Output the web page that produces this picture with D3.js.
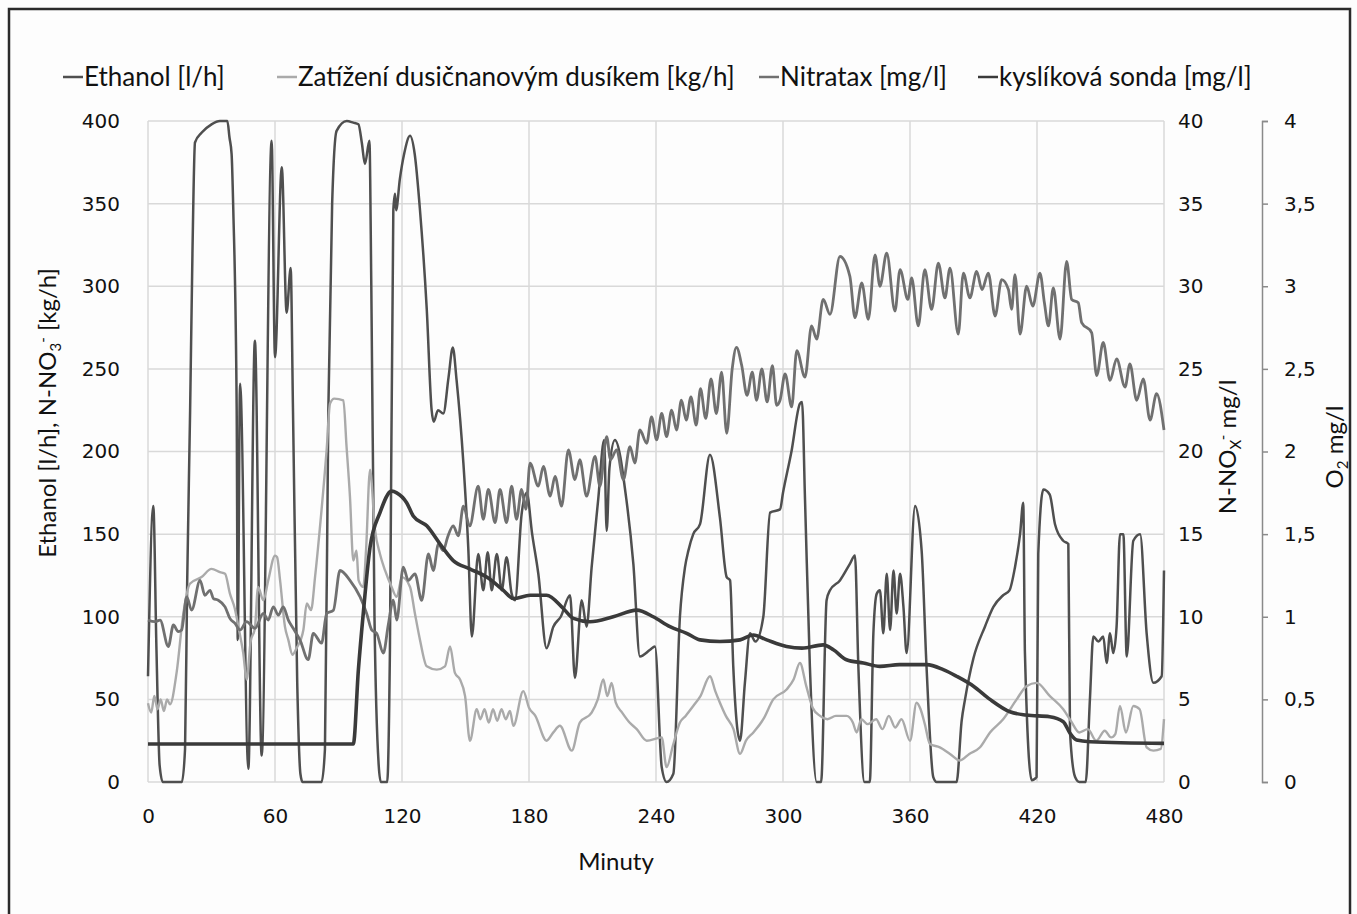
<!DOCTYPE html>
<html lang="cs">
<head>
<meta charset="UTF-8">
<title>Ethanol, dusičnany a kyslík</title>
<script src="https://d3js.org/d3.v7.min.js"></script>
<style>
  body, html { margin: 0; background: #fdfdfd; }
  svg { display: block; }
  .tick text { font-family: 'DejaVu Sans', sans-serif; font-size: 20px; fill: #111; }
  .label { font-family: 'Lato', 'Open Sans', sans-serif; font-size: 24px; fill: #111; }
  .legend { font-family: 'Lato', 'Open Sans', sans-serif; font-size: 26px; fill: #111; }
</style>
</head>
<body>
<svg width="1357" height="914"></svg>
<script>
// minutes / values
const ethanol = [[0,64],[2.5,167],[4,80],[5.5,10],[7,0],[16,0],[17.5,20],[18.5,120],[19.9,225],[21,320],[22.2,387],[25.4,393],[30,398],[34,400],[37.5,400],[38.5,390],[39.5,380],[40.3,346],[41.9,225],[42.4,86],[43.5,241],[47.4,8],[50.5,267],[53.7,16],[58.4,388],[60,257],[63.2,372],[65.5,284],[67.4,311],[68.5,225],[70.5,60],[72,5],[73,0],[82,0],[83.6,20],[85.2,225],[87,350],[89.1,394],[93.9,400],[97,399],[99.4,398],[101,387],[102.5,374],[104.6,388],[105.5,300],[107,100],[109,10],[110,0],[113,0],[114.3,80],[115.9,346],[116.7,356],[117.2,346],[119,365],[121,380],[123.8,391],[126,380],[128.5,346],[131.7,286],[134,225],[135,218],[137,225],[139.5,223],[142,245],[144,263],[145.8,243],[149,193],[151.3,142],[153,88],[156,138],[158.4,116],[160.5,139],[162.4,116],[164.8,138],[167.1,116],[169.4,136],[171.8,114],[173.4,110],[176.5,162],[178.9,175],[181.5,150],[184.4,126],[188.3,81],[191.5,94],[195,100],[199.4,113],[201.7,63],[204.9,110],[207.2,94],[209.6,130],[212.7,171],[215.5,207],[216.7,152],[218,190],[220.6,207],[226,171],[229.3,132],[232.4,76],[237.2,80],[239.5,82],[242.7,9],[245,0],[248.2,5],[251.3,100],[253.7,130],[255.3,140],[257.6,150],[260.8,156],[265.5,198],[270.2,160],[273.4,124],[275,122],[276.5,70],[279.7,25],[282,60],[284.4,90],[287,85],[290.7,100],[293.9,163],[298.6,165],[300,175],[304,200],[308,229],[309,230],[310.4,171],[312.7,70],[315.9,0],[318,0],[320.6,110],[322.2,116],[326.9,122],[331.6,132],[334,137],[335.6,70],[338.5,0],[341,0],[342.7,90],[344.3,114],[345.8,116],[347.4,90],[349,126],[350.6,92],[352.2,128],[353.7,102],[355.3,126],[356.9,106],[358.4,78],[362.4,167],[365.5,140],[367.8,70],[371,3],[372.6,0],[382,0],[384.4,37],[386,50],[390,75],[395.4,94],[399.4,106],[404,113],[407,116],[409.6,130],[412,150],[413.5,169],[414.3,78],[417.5,1],[419.8,3],[420.6,138],[423,177],[426,174],[428.5,156],[432.4,146],[434.8,144],[435.6,30],[438,3],[440,0],[443,0],[445,50],[446.6,88],[449,85],[451.3,88],[452.9,72],[454.5,90],[456,78],[457.6,94],[459.2,150],[460.8,150],[462.4,76],[465.5,146],[468.7,150],[471.8,90],[475,60],[478.9,64],[480,128]];

const nitrateLoad = [[0,47.6],[1.5,42],[3,52],[4.5,44],[6,50],[7.5,43],[9,50],[10.4,47],[13.5,66],[16.7,102],[19.8,120],[25.3,124],[30,129],[34,127],[36.4,126],[38.7,114],[41,105],[43,92],[45,78],[46.6,62],[48.5,85],[50.5,93],[52,118],[54.5,110],[56.8,122],[60,137],[61,136],[62.4,122],[64.7,94],[66.3,86],[68.2,77],[70.2,81],[73.4,92],[75,108],[77,104],[79,125],[81.3,155],[84.4,201],[86,229],[88,232],[92.3,231],[93.8,203],[95.4,173],[97,134],[98.5,140],[99.5,122],[101.7,118],[103,140],[104.9,189],[107.2,153],[109.6,138],[112,128],[115.1,118],[117.5,112],[120,124],[123.8,118],[126.1,102],[128.5,86],[131.7,70],[136.4,68],[140.3,70],[142.7,82],[145,66],[147.4,62],[149.8,52],[152.1,25],[155.3,44],[157,38],[159,44],[161,36],[163,44],[165,37],[167,44],[169,38],[171,43],[172.6,34],[177.3,55],[180,45],[183,40],[188.3,25],[191.5,30],[194.6,34],[200.2,19],[204,36],[209.6,42],[212.5,50],[215.1,62],[217,52],[219,60],[221,48],[224,42],[227.5,36],[230.9,32],[235.6,25],[242.7,27],[245,9],[248,22],[251.3,36],[254,40],[257.6,46],[261,52],[265.5,64],[268,55],[270.2,48],[273,40],[276.6,32],[279.7,17],[282.5,25],[286,30],[290.7,38],[295.4,50],[301.7,56],[305,62],[308,72],[311,58],[314,45],[317.5,40],[321,38],[325,40],[330,40],[333,36],[334.8,30],[337,38],[340,35],[344,38],[347,32],[350,40],[353,33],[356,38],[360,25],[363.1,48],[365,44],[367,35],[369.4,23],[374.1,21],[378.9,17],[383.6,13],[388,17],[393.1,21],[397.8,30],[404,38],[410.4,50],[415,58],[419.8,60],[426.1,52],[432.4,44],[436,37],[440,30],[444,32],[448,25],[452,31],[455,27],[457,29],[459.2,46],[462,30],[465.5,46],[468.5,44],[471.8,21],[475,19],[478.5,20],[480,38]];

const nitratax = [[0,9.8],[3.3,9.7],[5.7,9.8],[9.6,8.2],[12,9.5],[14.3,9.1],[15.9,9.2],[18.3,11.2],[20.6,10.4],[24.6,12.2],[26.9,11.3],[29.3,11.6],[30.9,11.1],[33.2,11.0],[36.4,10.6],[38.7,9.9],[41.1,9.6],[43.5,9.2],[46.6,9.7],[50.5,9.3],[54.5,10.2],[56.8,9.8],[59.2,10.6],[61.6,10.1],[63.9,10.6],[66.3,9.8],[68.6,9.3],[71.8,8.6],[75.7,7.4],[78.1,9.0],[82,8.4],[84.4,10.2],[87.6,10.4],[90.7,12.8],[95.4,12.2],[100.2,11.2],[103.3,10.2],[105.7,9.2],[108,9.0],[111.2,7.8],[113.5,9.5],[115.9,11.0],[117.5,9.8],[120.6,13.0],[123,12.2],[126.1,12.6],[129.3,11.0],[132.5,13.8],[134.8,12.8],[137.2,14.4],[139.5,14.0],[141.5,14.8],[144.2,15.5],[146.6,14.9],[149,16.7],[152,15.5],[156,17.9],[158.4,15.9],[160.8,17.7],[164,15.7],[166.3,17.7],[169.4,15.7],[171.8,17.9],[174.1,15.9],[176.5,17.7],[178.5,16.5],[180.5,19.3],[184.4,17.9],[186.8,19.1],[190,17.3],[192.3,18.5],[195.4,16.7],[198.6,20.1],[201.7,18.3],[204,19.5],[207.2,17.3],[211.2,19.7],[213.5,17.9],[216.7,20.9],[218.5,19.5],[221.4,20.1],[224.6,18.3],[227.7,20.3],[230,19.3],[232.4,21.3],[235.6,20.5],[237.9,22.1],[240.3,20.7],[242.7,22.3],[245,20.9],[247.4,22.5],[249.7,21.3],[252,23.1],[254.3,21.9],[256.5,23.3],[259,21.6],[261,23.8],[263.5,22.0],[266,24.4],[268.5,22.3],[271,24.8],[273.4,21.1],[276,25.0],[278,26.3],[280.5,25.2],[283,23.4],[285.5,24.8],[287.5,23.1],[290,25.0],[292.5,23.0],[295,25.2],[297,22.8],[298.6,23.1],[301,24.7],[304.1,22.7],[306.5,26.1],[310.4,24.5],[313.5,27.6],[315.9,26.8],[319,29.2],[322.2,28.3],[326.9,31.8],[331.6,30.6],[334,28.1],[337.2,30.2],[340.3,28.0],[343.5,31.9],[345.8,30.0],[349,32.0],[352.9,28.5],[355.3,31.0],[359,29.2],[360.8,30.5],[363.9,27.6],[367,31.0],[370.2,28.6],[373.4,31.4],[376.5,29.3],[378.9,31.1],[382.8,27.1],[385.2,30.8],[388.3,29.3],[391.5,30.9],[394,29.8],[397,30.8],[400.2,28.2],[403.3,30.4],[406.5,29.8],[408,28.6],[409.6,30.7],[412,27.1],[415.1,30.0],[418,28.8],[421.4,30.8],[423.5,29.0],[425.4,27.6],[427.7,29.9],[430.9,26.8],[434,31.5],[436.4,29.2],[439.5,29.0],[441.1,27.8],[445.8,27.2],[448.2,24.6],[451.3,26.6],[454.5,24.3],[457.6,25.6],[461.6,23.9],[463.9,25.3],[467.1,23.1],[470.2,24.4],[473.4,21.9],[476.5,23.5],[480,21.3]];

const oxygen = [[0,0.23],[97,0.23],[99.4,0.68],[101.7,1.02],[104.9,1.42],[109.6,1.63],[115.1,1.76],[117.5,1.75],[122.2,1.69],[125.3,1.61],[131.7,1.55],[138,1.44],[144.2,1.34],[152,1.29],[160,1.24],[167.9,1.16],[172.6,1.11],[180.5,1.13],[188.3,1.13],[196.2,1.05],[201,0.99],[208.8,0.97],[219.8,1.00],[230.9,1.04],[238.7,1.00],[246.6,0.94],[254.5,0.90],[260.8,0.86],[270.2,0.85],[279.7,0.86],[286,0.89],[292.3,0.86],[301.7,0.82],[309,0.81],[319,0.83],[323.8,0.80],[330,0.74],[338,0.72],[345.8,0.70],[355,0.71],[367.9,0.71],[375.7,0.68],[382,0.64],[390,0.58],[397.8,0.50],[407.2,0.425],[415,0.405],[426,0.395],[432.4,0.365],[435.6,0.295],[438.7,0.254],[445,0.244],[480,0.234]];

const xTicks = [0, 60, 120, 180, 240, 300, 360, 420, 480];
const leftTicks = [0, 50, 100, 150, 200, 250, 300, 350, 400];
const nTicks = [0, 5, 10, 15, 20, 25, 30, 35, 40];
const oTicks = [0, 0.5, 1, 1.5, 2, 2.5, 3, 3.5, 4];
const legendNames = ["Ethanol [l/h]", "Zatížení dusičnanovým dusíkem [kg/h]", "Nitratax [mg/l]", "kyslíková sonda [mg/l]"];

const svg = d3.select("svg");
const L = 148, R = 1164, T = 121, B = 782;

const x = d3.scaleLinear().domain([0, 480]).range([L, R]);
const yL = d3.scaleLinear().domain([0, 400]).range([B, T]);
const yN = d3.scaleLinear().domain([0, 40]).range([B, T]);
const yO = d3.scaleLinear().domain([0, 4]).range([B, T]);

// outer frame
svg.append("rect").attr("x", 9).attr("y", 9).attr("width", 1341).attr("height", 930)
  .attr("fill", "#fdfdfd").attr("stroke", "#2a2a2a").attr("stroke-width", 2.5);

// grid
svg.append("g").selectAll("line").data(leftTicks).join("line")
  .attr("x1", L).attr("x2", R).attr("y1", d => yL(d)).attr("y2", d => yL(d))
  .attr("stroke", "#d9d9d9").attr("stroke-width", 1.5);
svg.append("g").selectAll("line").data(xTicks).join("line")
  .attr("x1", d => x(d)).attr("x2", d => x(d)).attr("y1", T).attr("y2", B)
  .attr("stroke", "#d9d9d9").attr("stroke-width", 1.5);

const comma = d => String(d).replace(".", ",");

// axes
const gx = svg.append("g").attr("transform", `translate(0,${B})`)
  .call(d3.axisBottom(x).tickValues(xTicks).tickSize(0).tickPadding(27));
gx.select(".domain").remove();

const gl = svg.append("g").attr("transform", `translate(${L},0)`)
  .call(d3.axisLeft(yL).tickValues(leftTicks).tickSize(0).tickPadding(28));
gl.select(".domain").remove();

const gn = svg.append("g").attr("transform", `translate(${R},0)`)
  .call(d3.axisRight(yN).tickValues(nTicks).tickSize(0).tickPadding(14));
gn.select(".domain").remove();

const go = svg.append("g").attr("transform", "translate(1262,0)")
  .call(d3.axisRight(yO).tickValues(oTicks).tickFormat(comma).tickSize(6).tickSizeOuter(6).tickPadding(16));
go.select(".domain").attr("stroke", "#8a8a8a").attr("stroke-width", 1.5);
go.selectAll(".tick line").attr("stroke", "#8a8a8a").attr("stroke-width", 1.5);

// series
const line = (ys) => d3.line().x(d => x(d[0])).y(d => ys(d[1])).curve(d3.curveMonotoneX);
const series = [
  { data: ethanol, y: yL, color: "#4f4f4f", w: 2.5 },
  { data: nitrateLoad, y: yL, color: "#aaaaaa", w: 2.4 },
  { data: nitratax, y: yN, color: "#707070", w: 2.8 },
  { data: oxygen, y: yO, color: "#3a3a3a", w: 3.6 }
];
svg.append("g").selectAll("path").data(series).join("path")
  .attr("d", s => line(s.y)(s.data))
  .attr("fill", "none").attr("stroke", s => s.color).attr("stroke-width", s => s.w)
  .attr("stroke-linejoin", "round");

// axis titles
svg.append("text").attr("class", "label").attr("text-anchor", "middle").attr("font-size", 25.5)
  .attr("transform", "translate(56,413) rotate(-90)")
  .html('Ethanol [l/h], N-NO<tspan font-size="15" dy="5">3</tspan><tspan font-size="15" dy="-13">-</tspan><tspan dy="8"> [kg/h]</tspan>');
svg.append("text").attr("class", "label").attr("text-anchor", "middle").attr("font-size", 23)
  .attr("transform", "translate(1236,447) rotate(-90)")
  .html('N-NO<tspan font-size="15" dy="5">X</tspan><tspan font-size="15" dy="-13">-</tspan><tspan dy="8"> mg/l</tspan>');
svg.append("text").attr("class", "label").attr("text-anchor", "middle")
  .attr("transform", "translate(1343,447) rotate(-90)")
  .html('O<tspan font-size="15" dy="5">2</tspan><tspan dy="-5"> mg/l</tspan>');
svg.append("text").attr("class", "label").attr("text-anchor", "middle")
  .attr("x", 616).attr("y", 870).text("Minuty");

// legend
const legendX = [63, 277, 759, 978];
const lg = svg.append("g").selectAll("g").data(legendNames).join("g")
  .attr("transform", (d, i) => `translate(${legendX[i]},77)`);
lg.append("line").attr("x1", 0).attr("x2", 20).attr("y1", 0).attr("y2", 0)
  .attr("stroke", (d, i) => series[i].color).attr("stroke-width", 2.5);
lg.append("text").attr("class", "legend").attr("x", 21).attr("y", 9).text(d => d);
</script>
</body>
</html>
